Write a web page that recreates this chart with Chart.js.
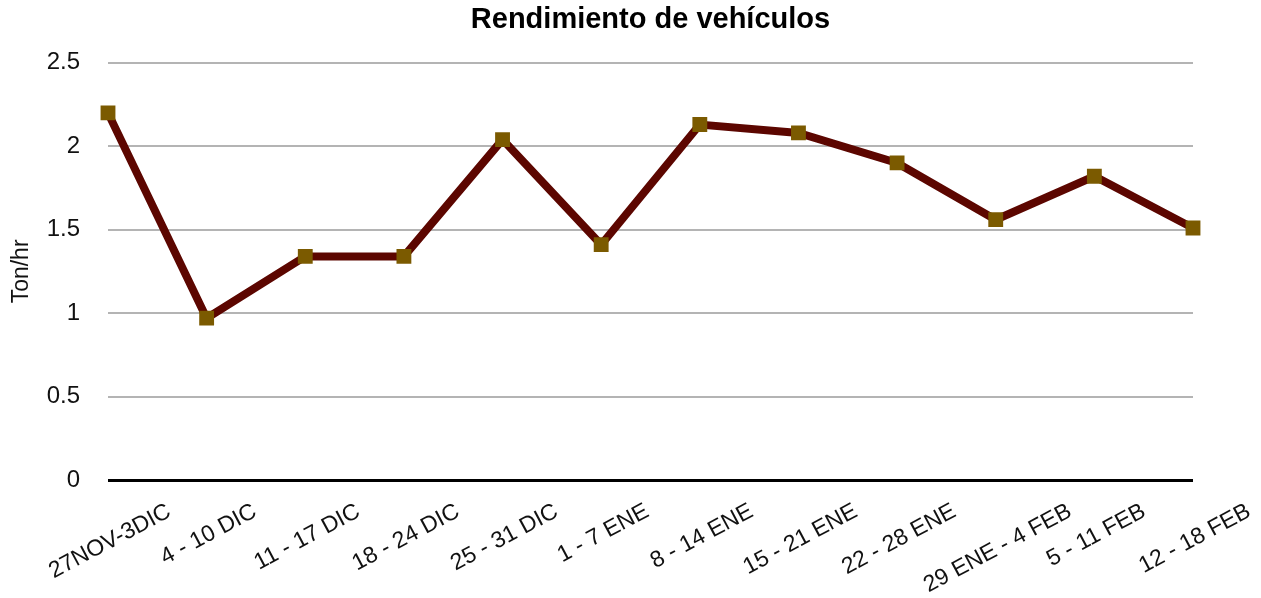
<!DOCTYPE html>
<html>
<head>
<meta charset="utf-8">
<script src="https://cdn.jsdelivr.net/npm/chart.js@4/dist/chart.umd.min.js"></script>
<style>
  html, body { margin: 0; padding: 0; background: #fff; }
  #wrap { width: 1261px; height: 598px; }
</style>
</head>
<body>
<div id="wrap"><canvas id="chart"></canvas></div>
<script>
// chart data
const categories = [
  "27NOV-3DIC", "4 - 10 DIC", "11 - 17 DIC", "18 - 24 DIC", "25 - 31 DIC", "1 - 7 ENE",
  "8 - 14 ENE", "15 - 21 ENE", "22 - 28 ENE", "29 ENE - 4 FEB", "5 - 11 FEB", "12 - 18 FEB"
];
const tonPerHour = [2.20, 0.97, 1.34, 1.34, 2.04, 1.41, 2.13, 2.08, 1.90, 1.56, 1.82, 1.51];
const yTicks = [0, 0.5, 1, 1.5, 2, 2.5];

const FONT = "'Liberation Sans', Arial, Helvetica, sans-serif";
const LABEL_ANGLE = 28; // degrees

// draws x labels centred under each tick (Chart.js right-aligns rotated labels)
const centeredXLabels = {
  id: "centeredXLabels",
  afterDraw(chart) {
    const ctx = chart.ctx;
    const x = chart.scales.x;
    const baseY = chart.chartArea.bottom;
    const a = LABEL_ANGLE * Math.PI / 180;
    ctx.save();
    ctx.font = "23px " + FONT;
    ctx.fillStyle = "#111";
    ctx.textAlign = "right";
    ctx.textBaseline = "middle";
    categories.forEach((label, i) => {
      const w = ctx.measureText(label).width;
      const px = x.getPixelForTick(i);
      ctx.save();
      ctx.translate(px + (w / 2) * Math.cos(a) + 2, baseY + 30);
      ctx.rotate(-a);
      ctx.fillText(label, 0, 0);
      ctx.restore();
    });
    ctx.restore();
  }
};

const ctx = document.getElementById("chart").getContext("2d");
new Chart(ctx, {
  type: "line",
  data: {
    labels: categories,
    datasets: [{
      label: "Ton/hr",
      data: tonPerHour,
      borderColor: "#5c0600",
      borderWidth: 8,
      tension: 0,
      pointStyle: "rect",
      pointRadius: 10.5,
      pointHoverRadius: 10.5,
      pointBackgroundColor: "#7b5a00",
      pointBorderColor: "#7b5a00",
      pointBorderWidth: 0
    }]
  },
  options: {
    responsive: true,
    maintainAspectRatio: false,
    animation: false,
    layout: { padding: { left: 0, right: 68, top: 0, bottom: 118 } },
    plugins: {
      legend: { display: false },
      tooltip: { enabled: false },
      title: {
        display: true,
        text: "Rendimiento de vehículos",
        fullSize: false,
        color: "#000",
        font: { family: FONT, size: 29, weight: "bold" },
        padding: { top: 3, bottom: 25 }
      }
    },
    scales: {
      x: {
        offset: false,
        grid: { display: false, drawTicks: false },
        border: { display: false },
        ticks: { display: false }
      },
      y: {
        min: 0,
        max: 2.5,
        afterBuildTicks(scale) {
          scale.ticks = yTicks.map(v => ({ value: v }));
        },
        afterFit(scale) {
          scale.width = 108;
        },
        grid: {
          drawTicks: false,
          color: c => (c.tick && c.tick.value === 0 ? "#000" : "#b4b4b4"),
          lineWidth: c => (c.tick && c.tick.value === 0 ? 3 : 2)
        },
        border: { display: false },
        ticks: {
          padding: 28,
          color: "#111",
          font: { family: FONT, size: 24 },
          callback: v => String(v)
        },
        title: {
          display: true,
          text: "Ton/hr",
          color: "#111",
          font: { family: FONT, size: 23 },
          padding: { top: 8, bottom: 0 }
        }
      }
    }
  },
  plugins: [centeredXLabels]
});
</script>
</body>
</html>
